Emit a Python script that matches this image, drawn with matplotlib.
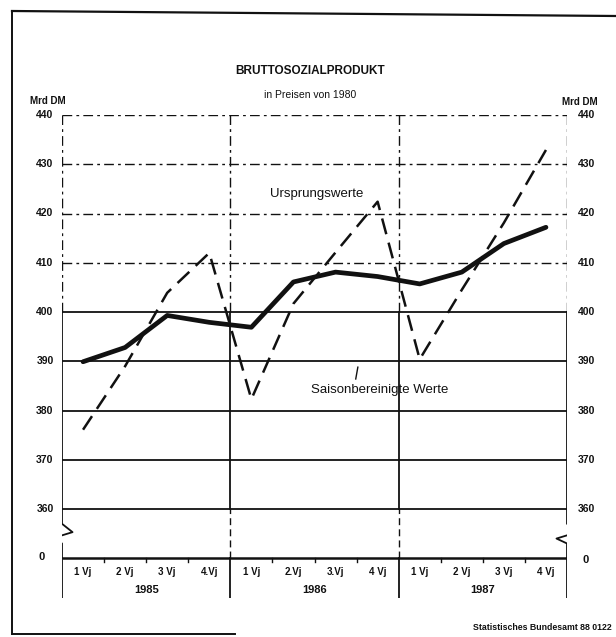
import matplotlib
matplotlib.use("Agg")
import matplotlib.pyplot as plt
from matplotlib.lines import Line2D

# ---------------- data ----------------
years = ["1985", "1986", "1987"]
quarter_labels = ["1 Vj", "2 Vj", "3 Vj", "4.Vj",
                  "1 Vj", "2.Vj", "3.Vj", "4 Vj",
                  "1 Vj", "2 Vj", "3 Vj", "4 Vj"]
ursprungswerte = [376.1, 389.0, 403.9, 412.0,
                  382.3, 401.7, 412.1, 422.4,
                  390.4, 404.5, 418.1, 432.9]
saisonbereinigt = [389.9, 392.8, 399.3, 397.9,
                   396.9, 406.1, 408.1, 407.2,
                   405.7, 408.1, 413.9, 417.2]
solid_grid = [360, 370, 380, 390, 400]
dashed_grid = [410, 420, 430, 440]
tick_values = [360, 370, 380, 390, 400, 410, 420, 430, 440]

ZERO = 350.0      # position of the "0" line below the axis break
YBOT = 342.0
YTOP = 440.0

plt.rcParams['font.family'] = ['Liberation Sans', 'DejaVu Sans']

W, H = 616, 637
fig = plt.figure(figsize=(W / 100, H / 100), dpi=100)
left_px, right_px = 62, 567
top_px = 115
bot_px = top_px + (YTOP - YBOT) * 4.925
ax = fig.add_axes([left_px / W, 1 - bot_px / H,
                   (right_px - left_px) / W, (bot_px - top_px) / H])
ax.set_xlim(0, 12)
ax.set_ylim(YBOT, YTOP)
ax.axis("off")

k = "#111111"
dashdot = (0, (7, 3, 2, 3))

# horizontal grid lines
for v in solid_grid:
    ax.plot([0, 12], [v, v], color=k, lw=1.3, solid_capstyle="butt")
for v in dashed_grid:
    ax.plot([0, 12], [v, v], color=k, lw=1.0, linestyle=dashdot)
ax.plot([0, 12], [ZERO, ZERO], color=k, lw=1.8, solid_capstyle="butt")

# vertical axes & year dividers
for xv in [0, 4, 8, 12]:
    lw = 1.3
    ax.plot([xv, xv], [YBOT, ZERO], color=k, lw=lw)
    ax.plot([xv, xv], [360, 400], color=k, lw=lw)
    ax.plot([xv, xv], [400, YTOP], color=k, lw=1.0, linestyle=dashdot)
    if xv in (4, 8):
        ax.plot([xv, xv], [ZERO, 360], color=k, lw=1.0, linestyle=(0, (5, 3)))

# axis break zigzags
zx = 0.25
for xv in (0, 12):
    ax.plot([xv, xv, xv + zx, xv - zx, xv, xv],
            [360, 357.0, 355.3, 354.0, 353.0, ZERO], color=k, lw=1.3)

# small quarter ticks on the zero line
for q in range(1, 12):
    if q % 4:
        ax.plot([q, q], [ZERO, ZERO - 0.7], color=k, lw=1.0)

# series
xs = [i + 0.5 for i in range(12)]
ax.plot(xs, ursprungswerte, color=k, lw=1.8, linestyle=(0, (6.5, 3.5)))
ax.plot(xs, saisonbereinigt, color=k, lw=3.4, solid_capstyle="round",
        solid_joinstyle="round")

# series labels
ax.text(6.05, 423.9, "Ursprungswerte", ha="center", va="center",
        fontsize=9.5, color=k)
ax.text(7.55, 384.2, "Saisonbereinigte Werte", ha="center", va="center",
        fontsize=9.5, color=k)
ax.plot([6.98, 7.03], [386.4, 388.8], color=k, lw=1.0)

# tick labels
for v in tick_values:
    ax.text(-0.2, v, str(v), ha="right", va="center", fontsize=7.5,
            fontweight="bold", color=k)
    ax.text(12.25, v, str(v), ha="left", va="center", fontsize=7.5,
            fontweight="bold", color=k)
ax.text(-0.42, ZERO + 0.3, "0", ha="right", va="center", fontsize=8,
        fontweight="bold", color=k)
ax.text(12.38, ZERO - 0.4, "0", ha="left", va="center", fontsize=8,
        fontweight="bold", color=k)

# category labels
for i, lab in enumerate(quarter_labels):
    ax.text(i + 0.5, 347.2, lab, ha="center", va="center", fontsize=7,
            fontweight="bold", color=k)
for j, yr in enumerate(years):
    ax.text(j * 4 + 2, 343.6, yr, ha="center", va="center", fontsize=8,
            fontweight="bold", color=k)

# texts in figure coordinates
def fx(px):
    return px / W

def fy(py):
    return 1 - py / H

fig.text(fx(310), fy(71), "BRUTTOSOZIALPRODUKT", ha="center", va="center",
         fontsize=8.5, fontweight="bold", color=k)
fig.text(fx(310), fy(95), "in Preisen von 1980", ha="center", va="center",
         fontsize=7.5, color=k)
fig.text(fx(30), fy(101), "Mrd DM", ha="left", va="center", fontsize=7,
         fontweight="bold", color=k)
fig.text(fx(598), fy(102), "Mrd DM", ha="right", va="center", fontsize=7,
         fontweight="bold", color=k)
fig.text(fx(612), fy(628), "Statistisches Bundesamt 88 0122", ha="right",
         va="center", fontsize=6.3, fontweight="bold", color=k)

# outer frame (scanned page border)
fig.add_artist(Line2D([fx(12), fx(616)], [fy(11), fy(16)], color=k, lw=1.6,
                      transform=fig.transFigure))
fig.add_artist(Line2D([fx(12), fx(12)], [fy(11), fy(634)], color=k, lw=1.4,
                      transform=fig.transFigure))
fig.add_artist(Line2D([fx(12), fx(235)], [fy(634), fy(634)], color=k, lw=1.4,
                      transform=fig.transFigure))

fig.savefig("out.png", dpi=100, facecolor="white")
